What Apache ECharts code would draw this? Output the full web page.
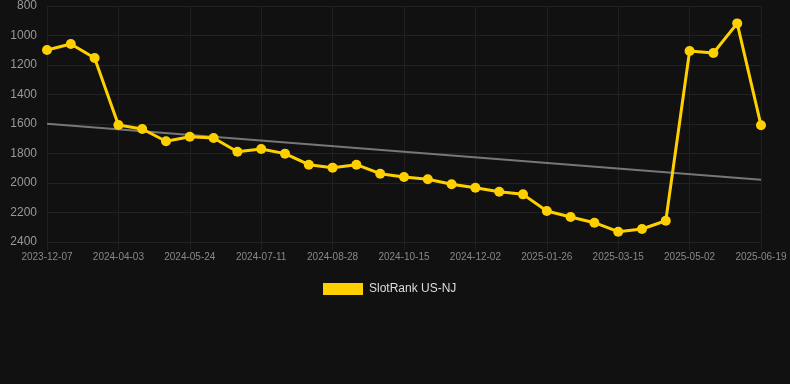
<!DOCTYPE html>
<html>
<head>
<meta charset="utf-8">
<script src="https://cdn.jsdelivr.net/npm/echarts@6/dist/echarts.min.js"></script>
<style>
html,body{margin:0;padding:0;background:#111111;}
#chart{width:790px;height:384px;}
</style>
</head>
<body>
<div id="chart"></div>
<script>
var categories = [
  '2023-12-07','2024-01-15','2024-02-24','2024-04-03','2024-04-20','2024-05-07',
  '2024-05-24','2024-06-09','2024-06-25','2024-07-11','2024-07-27','2024-08-12',
  '2024-08-28','2024-09-13','2024-09-29','2024-10-15','2024-10-31','2024-11-16',
  '2024-12-02','2024-12-20','2025-01-07','2025-01-26','2025-02-11','2025-02-27',
  '2025-03-15','2025-03-31','2025-04-16','2025-05-02','2025-05-18','2025-06-03',
  '2025-06-19'
];
var rankValues = [
  1098, 1058, 1153, 1607, 1634, 1717, 1686, 1695, 1788, 1769, 1801,
  1876, 1896, 1876, 1937, 1959, 1975, 2009, 2032, 2059, 2077,
  2190, 2231, 2269, 2330, 2312, 2256, 1105, 1119, 918, 1609
];
var trendStart = 1598;
var trendEnd = 1978;
var yTicks = [800, 1000, 1200, 1400, 1600, 1800, 2000, 2200, 2400];
var seriesName = 'SlotRank US-NJ';

var trendData = categories.map(function (c, i) {
  if (i === 0) return trendStart;
  if (i === categories.length - 1) return trendEnd;
  return null;
});

var chart = echarts.init(document.getElementById('chart'), null, {renderer: 'canvas'});
chart.setOption({
  backgroundColor: '#111111',
  animation: false,
  grid: {left: 47, right: 29, top: 6, bottom: 142, containLabel: false},
  legend: {
    data: [{name: seriesName, icon: 'rect'}],
    top: 278,
    left: 318,
    itemWidth: 40,
    itemHeight: 12,
    itemGap: 10,
    textStyle: {color: '#dddddd', fontSize: 12, padding: [0, 0, 0, 1], fontFamily: 'Liberation Sans, Arial, sans-serif'}
  },
  xAxis: {
    type: 'category',
    data: categories,
    boundaryGap: false,
    axisLine: {show: false},
    axisTick: {show: true, interval: 2, length: 8, lineStyle: {color: '#1f1f1f'}},
    splitLine: {show: true, interval: 2, lineStyle: {color: '#1f1f1f', width: 1}},
    axisLabel: {interval: 2, color: '#888888', fontSize: 10, margin: 10, fontFamily: 'Liberation Sans, Arial, sans-serif'}
  },
  yAxis: {
    type: 'value',
    inverse: true,
    min: yTicks[0],
    max: yTicks[yTicks.length - 1],
    interval: 200,
    axisLine: {show: false},
    axisTick: {show: false},
    splitLine: {show: true, lineStyle: {color: '#222222', width: 1}},
    axisLabel: {color: '#999999', fontSize: 12, margin: 10, formatter: function (v) { return String(v); }, fontFamily: 'Liberation Sans, Arial, sans-serif'}
  },
  series: [
    {
      name: 'trend',
      type: 'line',
      data: trendData,
      connectNulls: true,
      showSymbol: false,
      symbol: 'none',
      lineStyle: {color: '#777777', width: 2},
      silent: true,
      z: 1
    },
    {
      name: seriesName,
      type: 'line',
      data: rankValues,
      symbol: 'circle',
      symbolSize: 10,
      itemStyle: {color: '#FFD000'},
      lineStyle: {color: '#FFD000', width: 3},
      z: 2
    }
  ]
});
</script>
</body>
</html>
